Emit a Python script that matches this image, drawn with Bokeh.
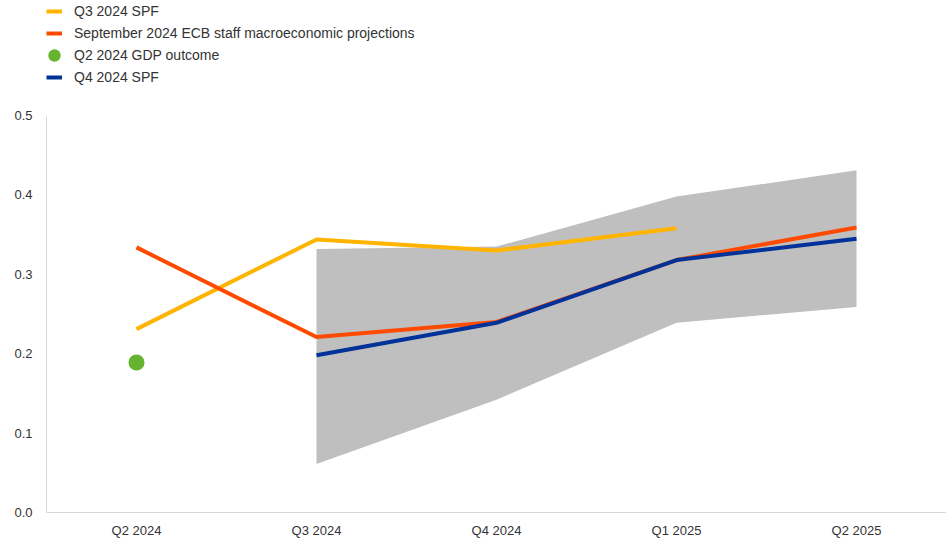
from bokeh.plotting import figure
from bokeh.models import FactorRange, Range1d, FixedTicker, Legend, LegendItem
from bokeh.embed import file_html
from bokeh.resources import INLINE

quarters = ["Q2 2024", "Q3 2024", "Q4 2024", "Q1 2025", "Q2 2025"]

spf_q3_x = ["Q2 2024", "Q3 2024", "Q4 2024", "Q1 2025"]
spf_q3_y = [0.231, 0.344, 0.330, 0.358]

ecb_x = ["Q2 2024", "Q3 2024", "Q4 2024", "Q1 2025", "Q2 2025"]
ecb_y = [0.334, 0.221, 0.240, 0.318, 0.359]

gdp_x = ["Q2 2024"]
gdp_y = [0.189]

spf_q4_x = ["Q3 2024", "Q4 2024", "Q1 2025", "Q2 2025"]
spf_q4_y = [0.198, 0.239, 0.318, 0.345]

band_x = ["Q3 2024", "Q4 2024", "Q1 2025", "Q2 2025"]
band_low = [0.061, 0.142, 0.239, 0.259]
band_high = [0.332, 0.335, 0.398, 0.431]

y_ticks = [0.0, 0.1, 0.2, 0.3, 0.4, 0.5]

FONT = "Liberation Sans"
TXT = "#333333"

p = figure(width=946, height=540, x_range=FactorRange(*quarters, range_padding=0),
           y_range=Range1d(0, 0.645), output_backend="svg", toolbar_location=None,
           min_border_left=46, min_border_right=0, min_border_top=0, min_border_bottom=0)
p.outline_line_color = None
p.grid.visible = False

p.varea(x=band_x, y1=band_low, y2=band_high, fill_color="#bfbfbf", fill_alpha=1.0)
r1 = p.line(spf_q3_x, spf_q3_y, line_color="#ffb400", line_width=4)
r2 = p.line(ecb_x, ecb_y, line_color="#ff4b00", line_width=4)
r4 = p.line(spf_q4_x, spf_q4_y, line_color="#003299", line_width=4)
r3 = p.scatter(gdp_x, gdp_y, size=10, line_width=6, fill_color="#65b32e", line_color="#65b32e")

for ax in (p.xaxis[0], p.yaxis[0]):
    ax.axis_line_color = "#d9d9d9"
    ax.axis_line_width = 1
    ax.major_tick_line_color = None
    ax.minor_tick_line_color = None
    ax.major_tick_out = 0
    ax.major_tick_in = 0
    ax.major_label_text_font = FONT
    ax.major_label_text_font_size = "13px"
    ax.major_label_text_color = TXT

p.yaxis[0].ticker = FixedTicker(ticks=y_ticks)
p.yaxis[0].bounds = (0, 0.5)
p.yaxis[0].major_label_overrides = {t: f"{t:.1f}" for t in y_ticks}
p.yaxis[0].major_label_standoff = 14
p.xaxis[0].major_label_standoff = 10

legend = Legend(items=[
    LegendItem(label="Q3 2024 SPF", renderers=[r1]),
    LegendItem(label="September 2024 ECB staff macroeconomic projections", renderers=[r2]),
    LegendItem(label="Q2 2024 GDP outcome", renderers=[r3]),
    LegendItem(label="Q4 2024 SPF", renderers=[r4]),
], location="top_left", orientation="vertical")
legend.padding = 1
legend.margin = 0
legend.spacing = 0
legend.label_height = 22
legend.glyph_height = 22
legend.glyph_width = 16
legend.label_standoff = 12
legend.label_text_font = FONT
legend.label_text_font_size = "14px"
legend.label_text_color = TXT
legend.border_line_color = None
legend.background_fill_alpha = 0
p.add_layout(legend, "center")

open("out.html", "w").write(file_html(p, INLINE))
